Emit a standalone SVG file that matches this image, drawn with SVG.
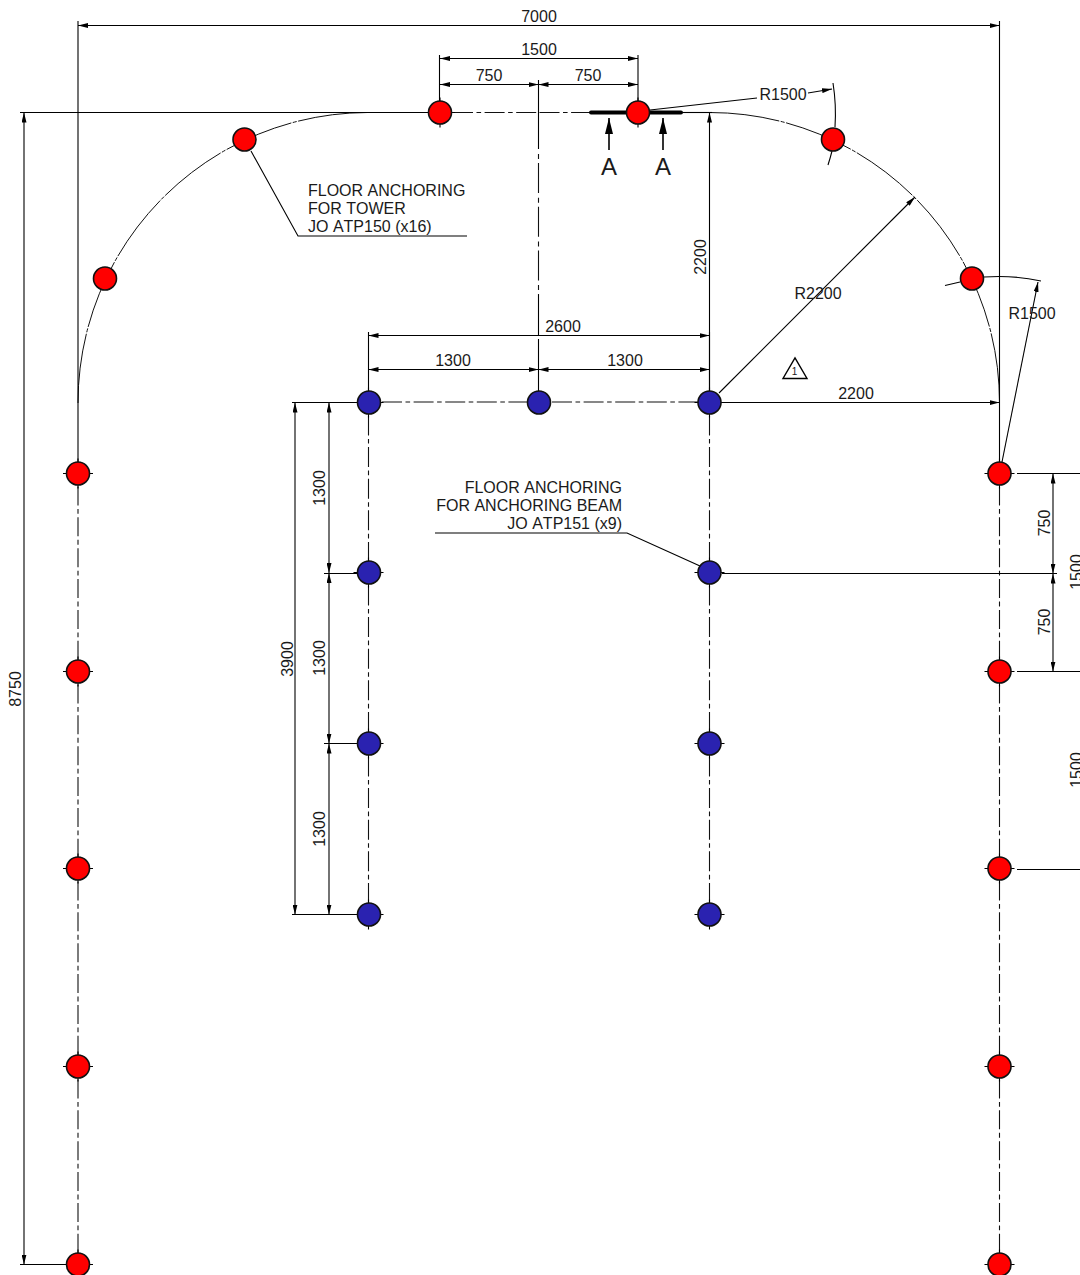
<svg xmlns="http://www.w3.org/2000/svg" width="1080" height="1275" viewBox="0 0 1080 1275">
<style>
text{font-family:"Liberation Sans",Arial,sans-serif;font-size:16px;fill:#1a1a1a;font-kerning:none}
.m{text-anchor:middle}.e{text-anchor:end}
.l{stroke:#000;stroke-width:1.1;fill:none}
.d{stroke:#000;stroke-width:1.1;fill:none;marker-start:url(#a);marker-end:url(#a)}
.ae{stroke:#000;stroke-width:1.1;fill:none;marker-end:url(#a)}
.c{stroke:#111;stroke-width:1.1;fill:none;stroke-dasharray:20 3.5 4.6 3.5}
.c2{stroke:#111;stroke-width:1.1;fill:none;stroke-dasharray:19 3.5 4.85 3.5}
.c3{stroke:#111;stroke-width:1.1;fill:none;stroke-dasharray:5 4 30 4.7}
.arc{stroke:#111;stroke-width:1;fill:none;stroke-dasharray:70 1.5 4 1.5}
.r circle{fill:#f00;stroke:#111;stroke-width:1.6}
.b circle{fill:#2a22b0;stroke:#111;stroke-width:1.6}
.A{font-size:24px}
</style>
<defs>
<marker id="a" viewBox="0 0 10 5" refX="10" refY="2.5" markerWidth="10" markerHeight="5" markerUnits="userSpaceOnUse" orient="auto-start-reverse"><path d="M0 0L10 2.500L0 5z" fill="#000"/></marker>
<marker id="s" viewBox="0 0 8 16" refX="4" refY="0" markerWidth="8" markerHeight="16" markerUnits="userSpaceOnUse" orient="0"><path d="M4 0L8 16H0z" fill="#000"/></marker>
<path id="cross" d="M-15 0H15M0 -15V15" stroke="#000" stroke-width="1.1"/>
</defs>
<g id="connectors">
<path class="arc" d="M78 403A290.500 290.500 0 0 1 368.500 112.500"/>
<path class="arc" d="M710 112.500A290 290 0 0 1 999.500 402.500"/>
<path class="c2" d="M78 486.500V660M78 684.500V857M78 881.500V1055M78 1079.500V1253M999.500 486.500V660M999.500 684.500V857M999.500 881.500V1055M999.500 1079.500V1253"/>
<path class="c" d="M368.500 415.500V561M368.500 585.500V732M368.500 756.500V903M709.500 415.500V561M709.500 585.500V732M709.500 756.500V903"/>
<path class="c" d="M382 402H528M552 402H698M453 112.500H539M539.500 112.500H600"/>
<path class="c3" d="M538.500 154V295"/>
<path class="l" d="M538.500 80V149M538.500 295V335M538.500 339V392"/>
<path class="l" d="M78 21V473M999.500 21V473M20 112.500H429M439.500 55V101M638 55V101M368.500 332V392M709.500 332V392"/>
<path class="d" d="M78 25.500H999.500"/>
<path class="d" d="M440 58.500H638"/>
<path class="d" d="M440 84.500H538.500"/>
<path class="d" d="M538.500 84.500H638"/>
<path class="d" d="M24 112.500V1264.500"/>
<path class="l" d="M20 1264.500H65"/>
<path class="ae" d="M709.500 402V112.500"/>
<path class="l" d="M682 112.500H712"/>
<path class="d" d="M368.500 335.500H709.500"/>
<path class="d" d="M368.500 369.500H538.500"/>
<path class="d" d="M538.500 369.500H709.500"/>
<path class="ae" d="M722 402.500H999.500"/>
<path class="ae" d="M719 393L915 197"/>
<path class="ae" d="M1002 462L1038 282"/>
<path class="l" d="M945 285.500L960 282M984 277A197.500 197.500 0 0 1 1041 281"/>
<path class="l" d="M650 110L757 98"/>
<path class="ae" d="M808 93L832 89"/>
<path class="l" d="M833 83A197.500 197.500 0 0 1 835 127M832 151A197.500 197.500 0 0 1 828 165"/>
<path stroke="#000" stroke-width="4" stroke-linecap="round" fill="none" d="M591 112.500H681"/>
<path class="l" style="stroke-width:1.600;marker-end:url(#s)" d="M609 150V118"/>
<path class="l" style="stroke-width:1.600;marker-end:url(#s)" d="M663 150V118"/>
<path class="l" d="M251 151L298 236H467"/>
<path class="l" d="M700 566L627 533H435"/>
<path class="l" d="M292 402.500H358"/>
<path class="l" d="M292 914.500H358"/>
<path class="d" d="M295 402.500V914.500"/>
<path class="d" d="M329 402.500V573"/>
<path class="d" d="M329 573V743.500"/>
<path class="d" d="M329 743.500V914.500"/>
<path class="l" d="M324 573.500H358M324 743.500H358"/>
<path class="l" d="M1017 473.500H1080M722 573.500H1057M1017 671.500H1080M1017 869.500H1080"/>
<path class="d" d="M1053 473.500V573.500"/>
<path class="d" d="M1053 573.500V671.500"/>
<path class="l" style="stroke-width:1.400" d="M783 378.500H807L795 358Z"/>
</g>
<g id="labels">
<text class="m" x="539" y="22">7000</text>
<text class="m" x="539" y="55">1500</text>
<text class="m" x="489" y="81">750</text>
<text class="m" x="588" y="81">750</text>
<text x="759.500" y="100">R1500</text>
<text class="m A" x="609" y="175">A</text>
<text class="m A" x="663" y="175">A</text>
<text x="308" y="196">FLOOR ANCHORING</text>
<text x="308" y="214">FOR TOWER</text>
<text x="308" y="232">JO ATP150 (x16)</text>
<text class="m" transform="translate(706,257) rotate(-90)">2200</text>
<text class="m" x="818" y="299">R2200</text>
<text class="m" x="1032" y="319">R1500</text>
<text class="m" x="563" y="332">2600</text>
<text class="m" x="453" y="366">1300</text>
<text class="m" x="625" y="366">1300</text>
<text class="m" x="856" y="399">2200</text>
<text class="m" x="794.500" y="375" style="font-size:10px">1</text>
<text class="e" x="622" y="493">FLOOR ANCHORING</text>
<text class="e" x="622" y="511">FOR ANCHORING BEAM</text>
<text class="e" x="622" y="529">JO ATP151 (x9)</text>
<text class="m" transform="translate(325,488) rotate(-90)">1300</text>
<text class="m" transform="translate(325,658) rotate(-90)">1300</text>
<text class="m" transform="translate(325,829) rotate(-90)">1300</text>
<text class="m" transform="translate(293,659) rotate(-90)">3900</text>
<text class="m" transform="translate(21,689) rotate(-90)">8750</text>
<text class="m" transform="translate(1050,523) rotate(-90)">750</text>
<text class="m" transform="translate(1050,622) rotate(-90)">750</text>
<text class="m" transform="translate(1082,572) rotate(-90)">1500</text>
<text class="m" transform="translate(1082,770) rotate(-90)">1500</text>
</g>
<g id="r1" class="r"><use href="#cross" x="440" y="112.500"/><circle cx="440" cy="112.500" r="11.500"/></g>
<g id="r2" class="r"><use href="#cross" x="638" y="112.500"/><circle cx="638" cy="112.500" r="11.500"/></g>
<g id="r3" class="r"><circle cx="244.500" cy="139.500" r="11.500"/></g>
<g id="r4" class="r"><circle cx="833" cy="139.500" r="11.500"/></g>
<g id="r5" class="r"><circle cx="105" cy="278.500" r="11.500"/></g>
<g id="r6" class="r"><circle cx="972" cy="278.500" r="11.500"/></g>
<g id="r7" class="r"><use href="#cross" x="78" y="473.500"/><circle cx="78" cy="473.500" r="11.500"/></g>
<g id="r8" class="r"><use href="#cross" x="999.500" y="473.500"/><circle cx="999.500" cy="473.500" r="11.500"/></g>
<g id="r9" class="r"><use href="#cross" x="78" y="671.500"/><circle cx="78" cy="671.500" r="11.500"/></g>
<g id="r10" class="r"><use href="#cross" x="999.500" y="671.500"/><circle cx="999.500" cy="671.500" r="11.500"/></g>
<g id="r11" class="r"><use href="#cross" x="78" y="868.500"/><circle cx="78" cy="868.500" r="11.500"/></g>
<g id="r12" class="r"><use href="#cross" x="999.500" y="868.500"/><circle cx="999.500" cy="868.500" r="11.500"/></g>
<g id="r13" class="r"><use href="#cross" x="78" y="1066.500"/><circle cx="78" cy="1066.500" r="11.500"/></g>
<g id="r14" class="r"><use href="#cross" x="999.500" y="1066.500"/><circle cx="999.500" cy="1066.500" r="11.500"/></g>
<g id="r15" class="r"><use href="#cross" x="78" y="1264.500"/><circle cx="78" cy="1264.500" r="11.500"/></g>
<g id="r16" class="r"><use href="#cross" x="999.500" y="1264.500"/><circle cx="999.500" cy="1264.500" r="11.500"/></g>
<g id="b1" class="b"><use href="#cross" x="368.500" y="402.500"/><circle cx="369" cy="402.500" r="11.500"/></g>
<g id="b2" class="b"><circle cx="539" cy="402.500" r="11.500"/></g>
<g id="b3" class="b"><use href="#cross" x="709.500" y="402.500"/><circle cx="709.500" cy="402.500" r="11.500"/></g>
<g id="b4" class="b"><use href="#cross" x="368.500" y="572.500"/><circle cx="369" cy="572.500" r="11.500"/></g>
<g id="b5" class="b"><use href="#cross" x="709.500" y="572.500"/><circle cx="709.500" cy="572.500" r="11.500"/></g>
<g id="b6" class="b"><use href="#cross" x="368.500" y="743.500"/><circle cx="369" cy="743.500" r="11.500"/></g>
<g id="b7" class="b"><use href="#cross" x="709.500" y="743.500"/><circle cx="709.500" cy="743.500" r="11.500"/></g>
<g id="b8" class="b"><use href="#cross" x="368.500" y="914.500"/><circle cx="369" cy="914.500" r="11.500"/></g>
<g id="b9" class="b"><use href="#cross" x="709.500" y="914.500"/><circle cx="709.500" cy="914.500" r="11.500"/></g>
</svg>
